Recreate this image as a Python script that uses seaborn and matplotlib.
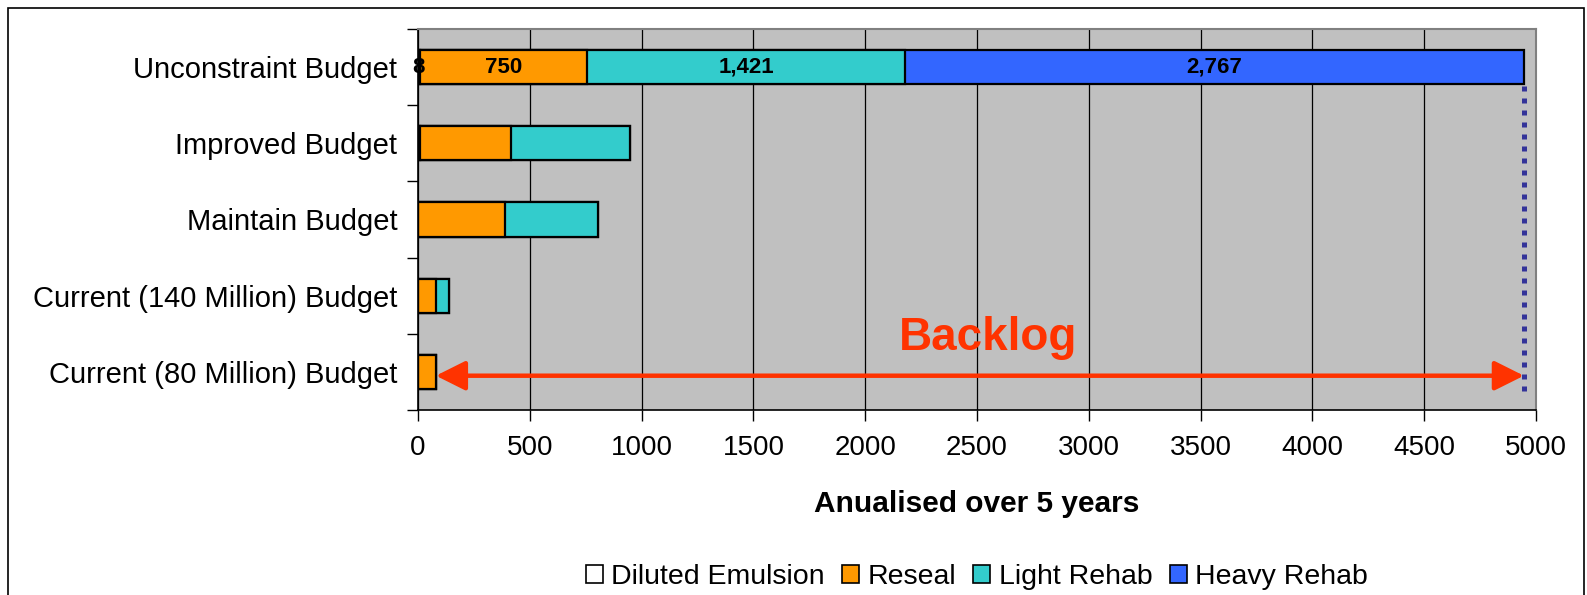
import matplotlib
matplotlib.use("Agg")
import matplotlib.pyplot as plt
from matplotlib.patches import Patch, Rectangle
import numpy as np
import pandas as pd
import seaborn as sns

# Budget scenarios and treatment costs (annualised over 5 years)
categories = [
    "Unconstraint Budget",
    "Improved Budget",
    "Maintain Budget",
    "Current (140 Million) Budget",
    "Current (80 Million) Budget",
]
diluted_emulsion = [8, 8, 0, 0, 0]
reseal = [750, 408, 390, 80, 80]
light_rehab = [1421, 534, 413, 60, 0]
heavy_rehab = [2767, 0, 0, 0, 0]

series_names = ["Diluted Emulsion", "Reseal", "Light Rehab", "Heavy Rehab"]
series_colors = ["#FFFFFF", "#FF9900", "#33CCCC", "#3366FF"]
x_ticks = list(range(0, 5001, 500))

sns.set_style("white")
plt.rcParams["font.family"] = ["Liberation Sans", "DejaVu Sans"]
plt.rcParams["text.color"] = "black"
plt.rcParams["xtick.color"] = "black"
plt.rcParams["ytick.color"] = "black"
plt.rcParams["axes.labelcolor"] = "black"

fig = plt.figure(figsize=(15.87, 5.95), dpi=100)
ax = fig.add_axes([418 / 1587, 1 - 410 / 595, (1536 - 418) / 1587, (410 - 29) / 595])
ax.set_facecolor("#C0C0C0")

df = pd.DataFrame({
    "category": categories,
    "Diluted Emulsion": diluted_emulsion,
    "Reseal": reseal,
    "Light Rehab": light_rehab,
    "Heavy Rehab": heavy_rehab,
})
cum = df[series_names].cumsum(axis=1)

# Stacked bars: draw cumulative totals from the outermost segment inwards
for name, color in reversed(list(zip(series_names, series_colors))):
    sns.barplot(x=cum[name], y=df["category"], orient="h", color=color,
                saturation=1, edgecolor="black", linewidth=1.6, width=0.45,
                errorbar=None, ax=ax, zorder=3)

# Segment value labels on the unconstrained scenario
row = 0
left = 0
for name in series_names:
    val = df.loc[row, name]
    ax.text(left + val / 2, row, f"{val:,}", ha="center", va="center",
            fontsize=16, fontweight="bold", color="black", zorder=5)
    left += val

total_need = cum.loc[0, "Heavy Rehab"]
current_low = cum.loc[4, "Heavy Rehab"]

# Backlog marker: dotted line at total need, double arrow from current budget
ax.plot([total_need, total_need], [0.25, 4.25], color="#333399", lw=3.6,
        linestyle=(0, (1, 1.4)), dash_capstyle="butt", zorder=4)
ax.annotate("", xy=(current_low, 4.05), xytext=(total_need, 4.05),
            arrowprops=dict(arrowstyle="<|-|>,head_length=0.9,head_width=0.45",
                            color="#FF3300", lw=3.2, mutation_scale=20,
                            shrinkA=0, shrinkB=0), zorder=6)
ax.text(2550, 3.55, "Backlog", ha="center", va="center", fontsize=33,
        fontweight="bold", color="#FF3300", zorder=6)

ax.set_xlim(0, 5000)
ax.set_ylim(4.5, -0.5)
ax.set_xticks(x_ticks)
ax.set_xticklabels([str(t) for t in x_ticks], fontsize=20)
ax.xaxis.grid(True, color="black", lw=0.9, zorder=1)
ax.yaxis.grid(False)
ax.set_axisbelow(True)
ax.tick_params(axis="x", direction="out", length=8, width=1, color="black",
               pad=10, bottom=True)
ax.set_yticks(range(len(categories)))
ax.set_yticklabels(categories, fontsize=21)
ax.tick_params(axis="y", which="major", length=0, pad=15)
ax.set_yticks(np.arange(-0.5, len(categories)), minor=True)
ax.tick_params(axis="y", which="minor", direction="out", length=8, width=1,
               color="black", left=True)
ax.set_xlabel("")
ax.set_ylabel("")

for side in ["top", "right"]:
    ax.spines[side].set_color("#808080")
    ax.spines[side].set_linewidth(1.5)
for side in ["left", "bottom"]:
    ax.spines[side].set_color("black")
    ax.spines[side].set_linewidth(1.2)

fig.text(977 / 1587, 1 - 504 / 595, "Anualised over 5 years", ha="center",
         va="center", fontsize=21.5, fontweight="bold")

handles = [Patch(facecolor=c, edgecolor="black", linewidth=1.2) for c in series_colors]
fig.legend(handles, series_names, loc="center",
           bbox_to_anchor=(977 / 1587, 1 - 577 / 595), ncol=4, frameon=False,
           fontsize=20.5, handlelength=0.6, handleheight=0.6, handletextpad=0.3,
           columnspacing=0.6, borderaxespad=0)

# Chart-area frame
fig.patches.append(Rectangle((8 / 1587, -0.05), (1584 - 8) / 1587, 1 - 8 / 595 + 0.05,
                             transform=fig.transFigure, fill=False,
                             edgecolor="black", lw=1.2))

fig.savefig("out.png", dpi=100)
